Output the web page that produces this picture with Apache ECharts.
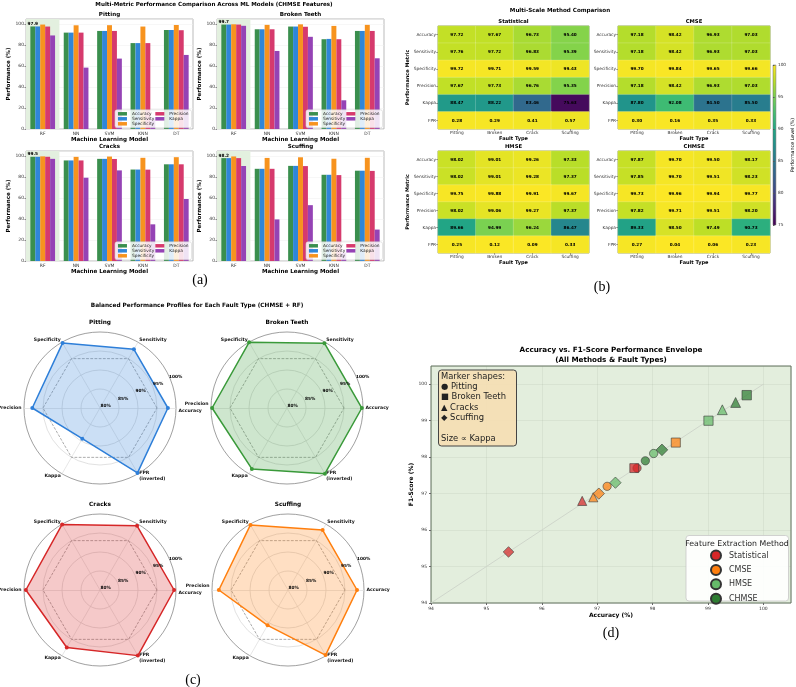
<!DOCTYPE html>
<html><head><meta charset="utf-8">
<script src="https://cdn.jsdelivr.net/npm/echarts@6/dist/echarts.min.js"></script>
<style>html,body{margin:0;padding:0;background:#fff}#c{width:796px;height:687px}</style>
</head><body><div id="c"></div>
<script>
// ---------------- DATA ----------------
const models = ['RF', 'NN', 'SVM', 'KNN', 'DT'];
const barMetrics = ['Accuracy', 'Sensitivity', 'Specificity', 'Precision', 'Kappa'];
// rows: Accuracy, Sensitivity, Specificity, Precision, Kappa ; cols: models
const pittingBars = [
  [97.9, 92.0, 93.6, 82.0, 94.5],
  [97.9, 92.0, 93.6, 82.0, 94.5],
  [99.7, 99.0, 99.1, 97.8, 99.3],
  [97.8, 92.0, 93.6, 82.0, 94.3],
  [89.3, 58.6, 67.2, 10.0, 70.7]
];
const brokenBars = [
  [99.7, 95.2, 97.8, 85.7, 93.6],
  [99.7, 95.2, 97.8, 86.0, 93.6],
  [99.96, 99.4, 99.9, 98.4, 99.4],
  [99.7, 95.2, 97.6, 85.7, 93.6],
  [98.5, 74.5, 88.0, 27.4, 67.5]
];
const cracksBars = [
  [99.5, 96.0, 97.5, 87.3, 92.3],
  [99.5, 96.0, 97.5, 87.3, 92.3],
  [99.9, 99.4, 99.7, 98.5, 99.1],
  [99.5, 96.0, 97.4, 87.2, 92.3],
  [97.5, 79.5, 86.5, 35.0, 59.2]
];
const scuffingBars = [
  [98.2, 88.0, 90.8, 82.3, 86.2],
  [98.2, 88.0, 90.8, 82.3, 86.2],
  [99.8, 98.4, 99.0, 97.6, 98.5],
  [98.2, 88.0, 90.6, 82.0, 86.0],
  [90.7, 39.7, 53.3, 8.0, 30.0]
];

const hmRows = ['Accuracy', 'Sensitivity', 'Specificity', 'Precision', 'Kappa', 'FPR'];
const hmCols = ['Pitting', 'Broken', 'Crack', 'Scuffing'];
const hmStatistical = [
  [97.72, 97.67, 96.73, 95.40],
  [97.76, 97.72, 96.83, 95.39],
  [99.72, 99.71, 99.59, 99.43],
  [97.67, 97.73, 96.76, 95.35],
  [88.47, 88.22, 83.46, 75.63],
  [0.28, 0.29, 0.41, 0.57]
];
const hmCMSE = [
  [97.18, 98.42, 96.93, 97.03],
  [97.18, 98.42, 96.93, 97.03],
  [99.70, 99.84, 99.65, 99.66],
  [97.18, 98.42, 96.93, 97.03],
  [87.80, 92.08, 84.50, 85.50],
  [0.30, 0.16, 0.35, 0.33]
];
const hmHMSE = [
  [98.02, 99.01, 99.26, 97.33],
  [98.02, 99.01, 99.28, 97.37],
  [99.75, 99.88, 99.91, 99.67],
  [98.02, 99.06, 99.27, 97.37],
  [89.66, 94.99, 96.24, 86.47],
  [0.25, 0.12, 0.09, 0.33]
];
const hmCHMSE = [
  [97.87, 99.70, 99.50, 98.17],
  [97.85, 99.70, 99.51, 98.23],
  [99.73, 99.96, 99.94, 99.77],
  [97.82, 99.71, 99.51, 98.20],
  [89.33, 98.50, 97.49, 90.73],
  [0.27, 0.04, 0.06, 0.23]
];
const colorbarTicks = [75, 100];

const radarAxes = ['Accuracy', 'Sensitivity', 'Specificity', 'Precision', 'Kappa', 'FPR\n(inverted)'];
const radarPitting = [97.87, 97.85, 99.73, 97.82, 89.33, 99.73];
const radarBroken = [99.70, 99.70, 99.96, 99.71, 98.50, 99.96];
const radarCracks = [99.50, 99.51, 99.94, 99.51, 97.49, 99.94];
const radarScuffing = [98.17, 98.23, 99.77, 98.20, 90.73, 99.77];
const radarTarget = [95, 95, 95, 95, 95, 95];
const radialTicks = [80, 85, 90, 95, 100];

const methods = ['Statistical', 'CMSE', 'HMSE', 'CHMSE'];
const faults = ['Pitting', 'Broken Teeth', 'Cracks', 'Scuffing'];
const f1Statistical = [97.7, 97.7, 96.8, 95.4];
const f1CMSE = [97.2, 98.4, 96.9, 97.0];
const f1HMSE = [98.1, 99.0, 99.3, 97.3];
const f1CHMSE = [97.9, 99.7, 99.5, 98.2];
const diagonalRange = [94, 100];

// ---------------- STYLE / LAYOUT ----------------
const F = 'DejaVu Sans';
const barColors = ['#3a8f4e', '#2f86d8', '#f7931e', '#d63a6d', '#9543b5'];
const viridis = ['#440154', '#482475', '#414487', '#355f8d', '#2a788e', '#21918c', '#22a884', '#44bf70', '#7ad151', '#bddf26', '#fde725'];
const methodColors = ['#d62728', '#ff7f0e', '#66bb6a', '#2e7d32'];
const shapes = ['circle', 'rect', 'triangle', 'diamond'];
const shapeScale = [0.88, 0.95, 1.0, 1.22];

const grid = [], xAxis = [], yAxis = [], series = [], legend = [], radar = [], graphic = [];
function txt(x, y, text, size, o) {
  o = o || {};
  graphic.push({
    type: 'text', x: x, y: y, rotation: o.rot || 0, z: o.z || 20, silent: true,
    style: { text: text, fontSize: size, fontFamily: o.family || F, fontWeight: o.weight || 'bold',
      fill: o.color || '#000', align: o.align || 'center', verticalAlign: o.valign || 'middle',
      lineHeight: o.lh }
  });
}

// ---------- (a) grouped bars ----------
txt(214, 4.5, 'Multi-Metric Performance Comparison Across ML Models (CHMSE Features)', 5.6);
const barPanels = [
  { title: 'Pitting', values: pittingBars, left: 26, top: 19 },
  { title: 'Broken Teeth', values: brokenBars, left: 217, top: 19 },
  { title: 'Cracks', values: cracksBars, left: 26, top: 151 },
  { title: 'Scuffing', values: scuffingBars, left: 217, top: 151 }
];
const BW = 167, BH = 110;
barPanels.forEach(function (p) {
  const gi = grid.length;
  grid.push({ left: p.left, top: p.top, width: BW, height: BH, show: true, borderColor: '#aaa', borderWidth: 0.8, backgroundColor: '#fff' });
  xAxis.push({
    type: 'category', gridIndex: gi, data: models,
    axisTick: { show: false }, axisLine: { show: false },
    axisLabel: { fontSize: 4.5, margin: 2, color: '#333', fontFamily: F },
    splitArea: { show: true, areaStyle: { color: ['#e3f0df', 'rgba(0,0,0,0)', 'rgba(0,0,0,0)', 'rgba(0,0,0,0)', 'rgba(0,0,0,0)'] } },
    name: 'Machine Learning Model', nameLocation: 'middle', nameGap: 5.5,
    nameTextStyle: { fontSize: 5.6, fontWeight: 'bold', fontFamily: F, color: '#000' }
  });
  yAxis.push({
    type: 'value', gridIndex: gi, min: 0, max: 105, interval: 20,
    axisLabel: { fontSize: 4.5, margin: 2, color: '#333', showMaxLabel: false, fontFamily: F },
    axisTick: { show: true, length: 1.5, lineStyle: { color: '#888' } }, axisLine: { show: false },
    splitLine: { show: true, lineStyle: { color: '#eee', width: 0.5 } },
    name: 'Performance (%)', nameLocation: 'middle', nameGap: 14,
    nameTextStyle: { fontSize: 5.6, fontWeight: 'bold', fontFamily: F, color: '#000' }
  });
  barMetrics.forEach(function (m, k) {
    series.push({
      type: 'bar', name: m, xAxisIndex: gi, yAxisIndex: gi, barGap: '0%', barCategoryGap: '26%',
      itemStyle: { color: barColors[k] }, silent: true,
      data: p.values[k].map(function (v, j) {
        if (k === 0 && j === 0) return { value: v, label: { show: true, position: 'top', distance: 0.5, formatter: function (q) { return q.value.toFixed(1); }, fontSize: 4.3, fontWeight: 'bold', fontFamily: F, color: '#000' } };
        return v;
      })
    });
  });
  legend.push({
    data: barMetrics, right: 796 - (p.left + BW) + 1.5, bottom: 687 - (p.top + BH) + 1.2,
    orient: 'vertical', height: 17, itemWidth: 9, itemHeight: 3.5, itemGap: 1, padding: [2, 3],
    icon: 'rect', selectedMode: false,
    textStyle: { fontSize: 4.3, fontFamily: F, color: '#222' },
    backgroundColor: 'rgba(255,255,255,0.85)', borderColor: '#ccc', borderWidth: 0.5, borderRadius: 2
  });
  txt(p.left + BW / 2, p.top - 4, p.title, 5.6);
});
txt(200, 280, '(a)', 14, { family: 'Liberation Serif', weight: 'normal' });

// ---------- (b) heatmaps ----------
txt(560, 11, 'Multi-Scale Method Comparison', 5.6);
const hmPanels = [
  { title: 'Statistical', values: hmStatistical, left: 438, top: 26, w: 151, h: 103, yName: true },
  { title: 'CMSE', values: hmCMSE, left: 618, top: 26, w: 152, h: 103 },
  { title: 'HMSE', values: hmHMSE, left: 438, top: 151, w: 151, h: 102, yName: true },
  { title: 'CHMSE', values: hmCHMSE, left: 618, top: 151, w: 152, h: 102 }
];
const hmSeriesIdx = [];
hmPanels.forEach(function (p) {
  const gi = grid.length;
  grid.push({ left: p.left, top: p.top, width: p.w, height: p.h, show: true, borderColor: '#8e9678', borderWidth: 1, backgroundColor: '#fff' });
  xAxis.push({
    type: 'category', gridIndex: gi, data: hmCols, axisLine: { show: false },
    axisTick: { show: true, length: 1.5, alignWithLabel: true, lineStyle: { color: '#666' } },
    axisLabel: { fontSize: 4.3, margin: 2, color: '#333', fontFamily: F },
    name: 'Fault Type', nameLocation: 'middle', nameGap: 6.5,
    nameTextStyle: { fontSize: 5, fontWeight: 'bold', fontFamily: F, color: '#000' }
  });
  yAxis.push({
    type: 'category', gridIndex: gi, data: hmRows, inverse: true, axisLine: { show: false },
    axisTick: { show: true, length: 1.5, alignWithLabel: true, lineStyle: { color: '#666' } },
    axisLabel: { fontSize: 4.3, margin: 2, color: '#333', fontFamily: F },
    name: p.yName ? 'Performance Metric' : '', nameLocation: 'middle', nameGap: 23,
    nameTextStyle: { fontSize: 5, fontWeight: 'bold', fontFamily: F, color: '#000' }
  });
  hmSeriesIdx.push(series.length);
  series.push({
    type: 'heatmap', xAxisIndex: gi, yAxisIndex: gi, silent: true,
    itemStyle: { borderColor: 'rgba(255,255,255,0.35)', borderWidth: 0.5 },
    label: {
      show: true, fontSize: 4.2, fontWeight: 'bold', fontFamily: F, color: '#000', textBorderWidth: 0,
      formatter: function (q) { return '{v|' + q.data[3].toFixed(2) + '}'; },
      rich: { v: { fontSize: 4.2, fontWeight: 'bold', fontFamily: F, color: '#000', textBorderWidth: 0 } }
    },
    data: p.values.reduce(function (acc, row, r) {
      row.forEach(function (v, c) { acc.push([c, r, hmRows[r] === 'FPR' ? 100 - v : v, v]); });
      return acc;
    }, [])
  });
  txt(p.left + p.w / 2, p.top - 4, p.title, 5.3);
});
// colorbar
(function () {
  const gi = grid.length;
  grid.push({
    left: 773, top: 65, width: 7, height: 160, show: true, borderColor: '#666', borderWidth: 0.5,
    backgroundColor: { type: 'linear', x: 0, y: 0, x2: 0, y2: 1, colorStops: viridis.slice().reverse().map(function (c, i, a) { return { offset: i / (a.length - 1), color: c }; }) }
  });
  xAxis.push({ type: 'value', gridIndex: gi, show: false, min: 0, max: 1 });
  yAxis.push({
    type: 'value', gridIndex: gi, position: 'right', min: colorbarTicks[0], max: colorbarTicks[1], interval: 5,
    axisLine: { show: false }, splitLine: { show: false },
    axisTick: { show: true, length: 1.5, lineStyle: { color: '#555' } },
    axisLabel: { fontSize: 4.3, margin: 2, color: '#333', fontFamily: F },
    name: 'Performance Level (%)', nameLocation: 'middle', nameGap: 11, nameRotate: 90,
    nameTextStyle: { fontSize: 4.8, fontFamily: F, color: '#000' }
  });
})();
txt(602, 287, '(b)', 14, { family: 'Liberation Serif', weight: 'normal' });

// ---------- (c) radars ----------
txt(197, 305, 'Balanced Performance Profiles for Each Fault Type (CHMSE + RF)', 5.8);
const radarPanels = [
  { title: 'Pitting', values: radarPitting, color: '#2e7fd9', cx: 100, cy: 408, shift: 'Accuracy' },
  { title: 'Broken Teeth', values: radarBroken, color: '#3a9a3a', cx: 287, cy: 408, shift: 'Precision' },
  { title: 'Cracks', values: radarCracks, color: '#d62728', cx: 100, cy: 590, shift: 'Accuracy' },
  { title: 'Scuffing', values: radarScuffing, color: '#ff7f0e', cx: 288, cy: 590, shift: 'Precision' }
];
const RR = 76;
const nameStyle = { color: '#111', fontSize: 4.6, fontWeight: 'bold', fontFamily: F, lineHeight: 5.5 };
radarPanels.forEach(function (p, i) {
  radar.push({
    center: [p.cx, p.cy], radius: RR, startAngle: 0, shape: 'circle', splitNumber: 4,
    indicator: radarAxes.map(function (n) { return { name: n, min: 80, max: 100 }; }),
    axisName: Object.assign({}, nameStyle, {
      formatter: function (name) {
        if (name === p.shift) return (name === 'Accuracy' ? '{dn|' : '{up|') + name + '}';
        return name;
      },
      rich: {
        dn: Object.assign({}, nameStyle, { padding: [5, 0, 0, 0] }),
        up: Object.assign({}, nameStyle, { padding: [0, 0, 9, 0] })
      }
    }),
    nameGap: 2.5,
    splitLine: { lineStyle: { color: ['#d4d4d4', '#d4d4d4', '#d4d4d4', '#d4d4d4', '#777'], width: 0.7 } },
    splitArea: { show: false },
    axisLine: { lineStyle: { color: '#ddd', width: 0.7 } },
    axisTick: { show: false }, axisLabel: { show: false }
  });
  series.push({
    type: 'radar', radarIndex: i, silent: true, symbol: 'none', z: 1,
    lineStyle: { type: 'dashed', color: '#888', width: 0.7 },
    data: [{ value: radarTarget, name: 'Target' }]
  });
  series.push({
    type: 'radar', radarIndex: i, silent: true, symbol: 'circle', symbolSize: 4, z: 3,
    lineStyle: { width: 1.5, color: p.color }, itemStyle: { color: p.color },
    areaStyle: { color: p.color, opacity: 0.25 },
    data: [{ value: p.values, name: p.title }]
  });
  txt(p.cx, p.cy - RR - 10, p.title, 5.8);
  const a = 22.5 * Math.PI / 180;
  radialTicks.forEach(function (v) {
    const d = (v - 80) / 20 * RR + 6;
    txt(p.cx + d * Math.cos(a), p.cy - d * Math.sin(a), v + '%', 4.3);
  });
});
txt(193, 680, '(c)', 14, { family: 'Liberation Serif', weight: 'normal' });

// ---------- (d) scatter ----------
txt(611, 350, 'Accuracy vs. F1-Score Performance Envelope', 7.2);
txt(611, 360.5, '(All Methods & Fault Types)', 7.2);
(function () {
  const gi = grid.length;
  grid.push({ left: 431, top: 366, width: 360, height: 237, show: true, backgroundColor: '#e3eedd', borderColor: '#5f6e5b', borderWidth: 1 });
  xAxis.push({
    type: 'value', gridIndex: gi, min: 94, max: 100.5, interval: 1,
    axisLine: { show: false }, axisTick: { show: true, length: 2, lineStyle: { color: '#666' } },
    axisLabel: { fontSize: 4.5, margin: 3, color: '#333', showMaxLabel: false, fontFamily: F },
    splitLine: { show: true, lineStyle: { color: 'rgba(120,140,120,0.18)', width: 0.6 } },
    name: 'Accuracy (%)', nameLocation: 'middle', nameGap: 9,
    nameTextStyle: { fontSize: 6, fontWeight: 'bold', fontFamily: F, color: '#000' }
  });
  yAxis.push({
    type: 'value', gridIndex: gi, min: 94, max: 100.5, interval: 1,
    axisLine: { show: false }, axisTick: { show: true, length: 2, lineStyle: { color: '#666' } },
    axisLabel: { fontSize: 4.5, margin: 4, color: '#333', showMaxLabel: false, fontFamily: F },
    splitLine: { show: true, lineStyle: { color: 'rgba(120,140,120,0.18)', width: 0.6 } },
    name: 'F1-Score (%)', nameLocation: 'middle', nameGap: 13,
    nameTextStyle: { fontSize: 6, fontWeight: 'bold', fontFamily: F, color: '#000' }
  });
  series.push({
    type: 'line', xAxisIndex: gi, yAxisIndex: gi, silent: true, symbol: 'none', z: 1,
    lineStyle: { color: '#cfd6cb', width: 1 },
    data: diagonalRange.map(function (v) { return [v, v]; })
  });
  const hms = [hmStatistical, hmCMSE, hmHMSE, hmCHMSE];
  const f1s = [f1Statistical, f1CMSE, f1HMSE, f1CHMSE];
  methods.forEach(function (m, k) {
    series.push({
      type: 'scatter', name: m, xAxisIndex: gi, yAxisIndex: gi, silent: true, z: 3,
      itemStyle: { color: methodColors[k], opacity: 0.72, borderColor: '#333', borderWidth: 0.8 },
      data: faults.map(function (f, j) {
        return { value: [hms[k][0][j], f1s[k][j]], symbol: shapes[j], symbolSize: Math.sqrt(hms[k][4][j]) * shapeScale[j] };
      })
    });
  });
  legend.push({
    data: methods, left: 710, top: 549.5, orient: 'vertical', itemGap: 2.4, itemWidth: 10, itemHeight: 10,
    icon: 'circle', selectedMode: false, z: 12, padding: 0,
    textStyle: { fontSize: 8, fontFamily: F, color: '#333', padding: [0, 0, 0, 3] },
    itemStyle: { opacity: 1 }
  });
  graphic.push({ type: 'rect', z: 10, silent: true, shape: { x: 686, y: 535.5, width: 102.5, height: 65.5, r: 3 }, style: { fill: 'rgba(255,255,255,0.9)', stroke: '#c8c8c8', lineWidth: 0.8 } });
  txt(737, 543.5, 'Feature Extraction Method', 7.8, { weight: 'normal', color: '#222', z: 12 });
  graphic.push({ type: 'rect', z: 10, silent: true, shape: { x: 438.5, y: 370, width: 78, height: 76, r: 3 }, style: { fill: 'rgba(245,222,179,0.92)', stroke: '#444', lineWidth: 1 } });
  txt(441, 371.5, ['Marker shapes:', '\u25CF Pitting', '\u25A0 Broken Teeth', '\u25B2 Cracks', '\u25C6 Scuffing', '', 'Size \u221D Kappa'].join('\n'), 8.4,
    { weight: 'normal', color: '#222', align: 'left', valign: 'top', lh: 10.3, z: 12 });
})();
txt(611, 633, '(d)', 14, { family: 'Liberation Serif', weight: 'normal' });

// ---------------- CHART ----------------
const chart = echarts.init(document.getElementById('c'), null, { renderer: 'canvas', width: 796, height: 687 });
chart.setOption({
  animation: false,
  backgroundColor: '#fff',
  textStyle: { fontFamily: F },
  grid: grid, xAxis: xAxis, yAxis: yAxis, radar: radar, legend: legend,
  visualMap: [{ show: false, type: 'continuous', min: 75, max: 100, dimension: 2, seriesIndex: hmSeriesIdx, inRange: { color: viridis } }],
  series: series,
  graphic: graphic
});
</script>
</body></html>
